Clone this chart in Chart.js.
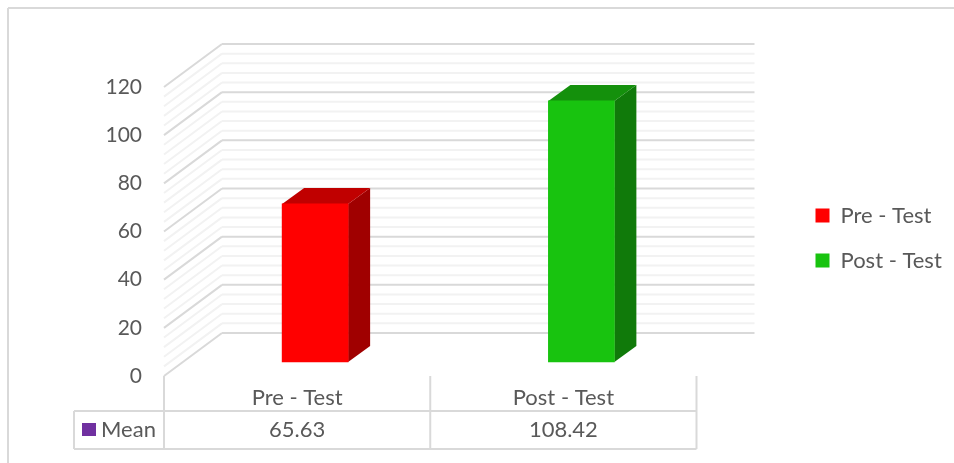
<!DOCTYPE html>
<html>
<head>
<meta charset="utf-8">
<title>Mean</title>
<script src="https://cdn.jsdelivr.net/npm/chart.js@4"></script>
<style>
    body { margin: 0; background: #fff; }
</style>
</head>
<body>
<canvas id="grafico" width="954" height="463"></canvas>
<script>
const categories = ['Pre - Test', 'Post - Test'];
const meanValues = [65.63, 108.42];
const seriesName = 'Mean';
const yMax = 120;
const yStep = 20;
const yMinorStep = 4;

const barColors = ['#ff0000', '#18c30f'];
const barTopColors = ['#c00000', '#14900c'];
const barSideColors = ['#a00000', '#107a0a'];
const textColor = '#595959';
const fontName = 'Lato, Carlito, sans-serif';

// depth of the fake 3D box, and how far in the bars sit
const wallDepth = { x: 58, y: 43 };
const barShift = { x: 18, y: 14 };
const barDepth = { x: 22, y: 16 };

function drawLine(ctx, x1, y1, x2, y2) {
    ctx.beginPath();
    ctx.moveTo(x1, y1);
    ctx.lineTo(x2, y2);
    ctx.stroke();
}

function drawPoly(ctx, color, pts) {
    ctx.fillStyle = color;
    ctx.beginPath();
    ctx.moveTo(pts[0][0], pts[0][1]);
    pts.slice(1).forEach(p => ctx.lineTo(p[0], p[1]));
    ctx.closePath();
    ctx.fill();
}

const walls3d = {
    id: 'walls3d',
    afterLayout(chart) {
        // legend sits a bit above the middle in the original
        chart.legend.top -= 37;
        chart.legend.bottom -= 37;
    },
    beforeDatasetsDraw(chart) {
        const ctx = chart.ctx;
        const area = chart.chartArea;
        const y = chart.scales.y;
        ctx.save();

        // outer frame
        ctx.strokeStyle = '#d9d9d9';
        ctx.lineWidth = 2;
        drawLine(ctx, 8, 8, 954, 8);
        drawLine(ctx, 8, 8, 8, 463);

        // minor lines first so the major ones sit on top
        for (let v = 0; v <= yMax; v += yMinorStep) {
            const major = v % yStep === 0;
            if (major) continue;
            const py = y.getPixelForValue(v);
            ctx.strokeStyle = '#f2f2f2';
            ctx.lineWidth = 2;
            drawLine(ctx, area.left, py, area.left + wallDepth.x, py - wallDepth.y);
            drawLine(ctx, area.left + wallDepth.x, py - wallDepth.y, area.right + wallDepth.x, py - wallDepth.y);
        }
        for (let v = 0; v <= yMax; v += yStep) {
            const py = y.getPixelForValue(v);
            ctx.strokeStyle = '#d9d9d9';
            ctx.lineWidth = 2;
            drawLine(ctx, area.left, py, area.left + wallDepth.x, py - wallDepth.y);
            drawLine(ctx, area.left + wallDepth.x, py - wallDepth.y, area.right + wallDepth.x, py - wallDepth.y);
        }

        // side and top faces of the bars
        ctx.translate(barShift.x, barShift.y * -1);
        chart.getDatasetMeta(0).data.forEach((bar, i) => {
            const left = bar.x - bar.width / 2;
            const right = bar.x + bar.width / 2;
            drawPoly(ctx, barSideColors[i], [
                [right, bar.y],
                [right + barDepth.x, bar.y - barDepth.y],
                [right + barDepth.x, bar.base - barDepth.y],
                [right, bar.base]
            ]);
            drawPoly(ctx, barTopColors[i], [
                [left, bar.y],
                [left + barDepth.x, bar.y - barDepth.y],
                [right + barDepth.x, bar.y - barDepth.y],
                [right, bar.y]
            ]);
        });
    },
    afterDatasetsDraw(chart) {
        chart.ctx.restore();
    }
};

const dataTable = {
    id: 'dataTable',
    afterDraw(chart) {
        const ctx = chart.ctx;
        const area = chart.chartArea;
        const x = chart.scales.x;
        const tableLeft = 74;
        const rowTop = 411;
        const rowBottom = 449;
        const mid = (x.getPixelForValue(0) + x.getPixelForValue(1)) / 2;

        ctx.save();
        ctx.strokeStyle = '#d9d9d9';
        ctx.lineWidth = 2;
        [area.left, mid, area.right].forEach(px => drawLine(ctx, px, area.bottom, px, rowBottom));
        drawLine(ctx, tableLeft, rowTop, area.right, rowTop);
        drawLine(ctx, tableLeft, rowBottom, area.right, rowBottom);
        drawLine(ctx, tableLeft, rowTop, tableLeft, rowBottom);

        ctx.font = '22px ' + fontName;
        ctx.fillStyle = textColor;
        ctx.textBaseline = 'middle';
        ctx.textAlign = 'center';
        meanValues.forEach((v, i) => {
            ctx.fillText(v.toFixed(2), x.getPixelForValue(i), 430);
        });

        ctx.textAlign = 'left';
        ctx.fillText(seriesName, 101, 430);
        ctx.fillStyle = '#7030a0';
        ctx.fillRect(82, 423, 14, 13);
        ctx.restore();
    }
};

const ctx = document.getElementById('grafico');

const grafico = new Chart(ctx, {
    type: 'bar',
    data: {
        labels: categories,
        datasets: [{
            label: seriesName,
            data: meanValues,
            backgroundColor: barColors,
            barThickness: 66,
            clip: false
        }]
    },
    options: {
        responsive: false,
        animation: false,
        layout: {
            padding: { top: 87, right: 3 }
        },
        scales: {
            x: {
                grid: { display: false },
                border: { display: false },
                ticks: {
                    color: textColor,
                    font: { family: fontName, size: 22 },
                    padding: 1,
                    maxRotation: 0
                },
                afterFit(scale) {
                    scale.height = 87;
                }
            },
            y: {
                min: 0,
                max: yMax,
                grid: { display: false },
                border: { display: false },
                ticks: {
                    stepSize: yStep,
                    color: textColor,
                    font: { family: fontName, size: 21 },
                    padding: 14
                },
                afterFit(scale) {
                    scale.width = 164;
                }
            },
            // empty axis, only keeps the gap between the table and the legend
            gap: {
                position: 'right',
                display: true,
                grid: { display: false },
                border: { display: false },
                ticks: { display: false },
                afterFit(scale) {
                    scale.width = 96;
                }
            }
        },
        plugins: {
            legend: {
                position: 'right',
                labels: {
                    boxWidth: 14,
                    boxHeight: 14,
                    padding: 23,
                    color: textColor,
                    font: { family: fontName, size: 22 },
                    generateLabels() {
                        return categories.map((name, i) => ({
                            text: name,
                            fillStyle: barColors[i],
                            strokeStyle: barColors[i],
                            lineWidth: 0,
                            fontColor: textColor,
                            index: i
                        }));
                    }
                }
            },
            tooltip: { enabled: false }
        }
    },
    plugins: [walls3d, dataTable]
});
</script>
</body>
</html>
